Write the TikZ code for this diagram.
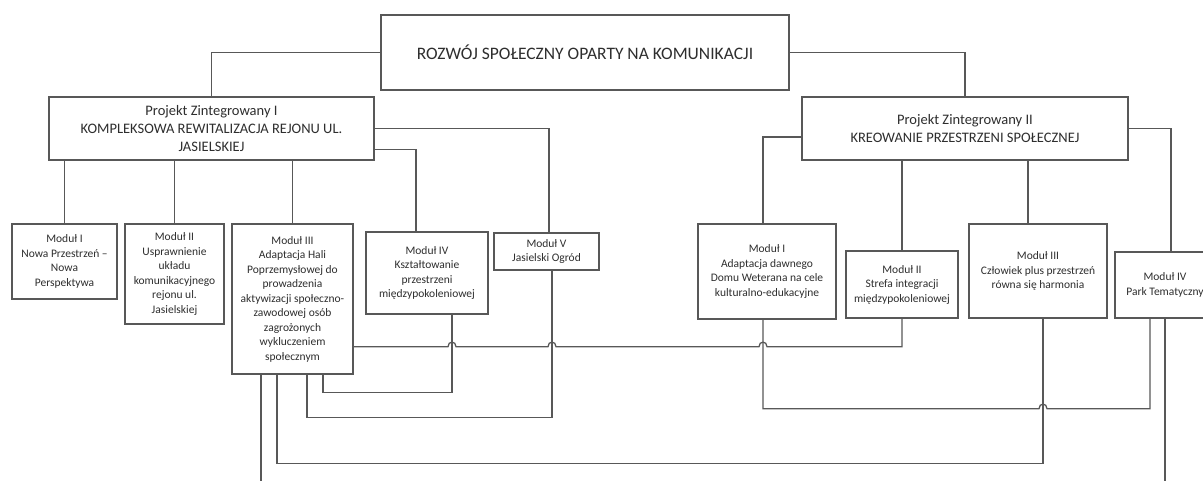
\documentclass[tikz,border=0pt]{standalone}
\usepackage{fontspec}
\setmainfont{Carlito}
\usetikzlibrary{positioning,calc}
\definecolor{wiregrey}{HTML}{585858}
\definecolor{inkgrey}{HTML}{2E2E2E}
\tikzset{
  block/.style   = {draw=wiregrey, line width=1.3pt, fill=white, align=center,
                    inner sep=0pt, text=inkgrey},
  title/.style   = {block, font=\fontsize{17.5}{21}\selectfont},
  projekt/.style = {block, font=\fontsize{14.5}{18}\selectfont},
  modul/.style   = {block, font=\fontsize{11.5}{14.5}\selectfont},
  wire/.style    = {draw=wiregrey, line width=1.3pt},
}
\newcommand{\hop}[1]{-- ([xshift=-4pt]#1) .. controls +(0,-6) and +(0,-6) .. ([xshift=4pt]#1)}
\begin{document}
\begin{tikzpicture}[x=1pt,y=-1pt]
  \useasboundingbox (0,0) rectangle (1203,480);
  \clip (0,0) rectangle (1203,480);
  \node[title, minimum width=408pt, minimum height=75pt] (top) at (585,52.5)
    {ROZWÓJ SPOŁECZNY OPARTY NA KOMUNIKACJI};
  \node[projekt, minimum width=325pt, minimum height=63pt] (pz1) at (211.5,128.5)
    {Projekt Zintegrowany I\\KOMPLEKSOWA REWITALIZACJA REJONU UL.\\JASIELSKIEJ};
  \node[projekt, minimum width=326pt, minimum height=63pt] (pz2) at (965,128.5)
    {Projekt Zintegrowany II\\KREOWANIE PRZESTRZENI SPOŁECZNEJ};
  \node[modul, minimum width=105pt, minimum height=75pt] (ma) at (64.5,261.5)
    {Moduł I\\Nowa Przestrzeń –\\Nowa\\Perspektywa};
  \node[modul, minimum width=99pt, minimum height=100pt] (mb) at (174.5,274)
    {Moduł II\\Usprawnienie\\układu\\komunikacyjnego\\rejonu ul.\\Jasielskiej};
  \node[modul, minimum width=121pt, minimum height=150pt] (mc) at (292.5,299)
    {Moduł III\\Adaptacja Hali\\Poprzemysłowej do\\prowadzenia\\aktywizacji społeczno-\\zawodowej osób\\zagrożonych\\wykluczeniem\\społecznym};
  \node[modul, minimum width=122pt, minimum height=82pt] (md) at (427,273)
    {Moduł IV\\Kształtowanie\\przestrzeni\\międzypokoleniowej};
  \node[modul, minimum width=105pt, minimum height=37pt] (me) at (546.5,251.5)
    {Moduł V\\Jasielski Ogród};
  \node[modul, minimum width=138pt, minimum height=95pt] (na) at (767,271.5)
    {Moduł I\\Adaptacja dawnego\\Domu Weterana na cele\\kulturalno-edukacyjne};
  \node[modul, minimum width=112pt, minimum height=67pt] (nb) at (902,284.5)
    {Moduł II\\Strefa integracji\\międzypokoleniowej};
  \node[modul, minimum width=138pt, minimum height=94pt] (nc) at (1038,271)
    {Moduł III\\Człowiek plus przestrzeń\\równa się harmonia};
  \node[modul, minimum width=100pt, minimum height=66pt] (nd) at (1165,285)
    {Moduł IV\\Park Tematyczny};

  \draw[wire] (top.west) -| (pz1.north);
  \draw[wire] (top.east) -| (pz2.north);
  \draw[wire] (ma.north |- pz1.south) -- (ma.north);
  \draw[wire] (mb.north |- pz1.south) -- (mb.north);
  \draw[wire] (mc.north |- pz1.south) -- (mc.north);
  \draw[wire] ([yshift=11pt]pz1.south east) -| ([xshift=-11pt]md.north);
  \draw[wire] (pz1.east) -| ([xshift=2.5pt]me.north);
  \coordinate (ncin) at ([xshift=-10pt]nc.north);
  \draw[wire] ([yshift=-8.5pt]pz2.west) -| ([xshift=-4pt]na.north);
  \draw[wire] (nb.north |- pz2.south) -- (nb.north);
  \draw[wire] (ncin |- pz2.south) -- (ncin);
  \draw[wire] (pz2.east) -| ([xshift=6pt]nd.north);

  \coordinate (mcr) at ([yshift=28pt]mc.south east);
  \coordinate (mc1) at ([xshift=-31.5pt]mc.south);
  \coordinate (mc2) at ([xshift=-15.5pt]mc.south);
  \coordinate (mc3) at ([xshift=14.5pt]mc.south);
  \coordinate (mc4) at ([xshift=30.5pt]mc.south);
  \coordinate (mdout) at ([xshift=25pt]md.south);
  \coordinate (meout) at ([xshift=5.5pt]me.south);
  \coordinate (naout) at ([xshift=-4pt]na.south);
  \coordinate (ncout) at ([xshift=5pt]nc.south);
  \coordinate (ndl) at ([xshift=-15pt]nd.south);
  \coordinate (lowrow) at ([yshift=-89pt]naout);
  \coordinate (j1) at (mdout |- mcr);
  \coordinate (j2) at (meout |- mcr);
  \coordinate (j3) at (naout |- mcr);
  \coordinate (j4) at (ncout |- lowrow);

  \draw[wire] (mcr) \hop{j1} \hop{j2} \hop{j3} -| (nb.south);
  \draw[wire] (mc4) -- ++(0,18) -| (mdout);
  \draw[wire] (mc3) -- ++(0,43) -| (meout);
  \draw[wire] (mc2) -- ++(0,89) -| (ncout);
  \draw[wire] (naout) -- (lowrow) \hop{j4} -| (ndl);
  \draw[wire] (mc1) -- (mc1 |- 0,485);
  \draw[wire] (nd.south) -- (nd.south |- 0,485);
\end{tikzpicture}
\end{document}
